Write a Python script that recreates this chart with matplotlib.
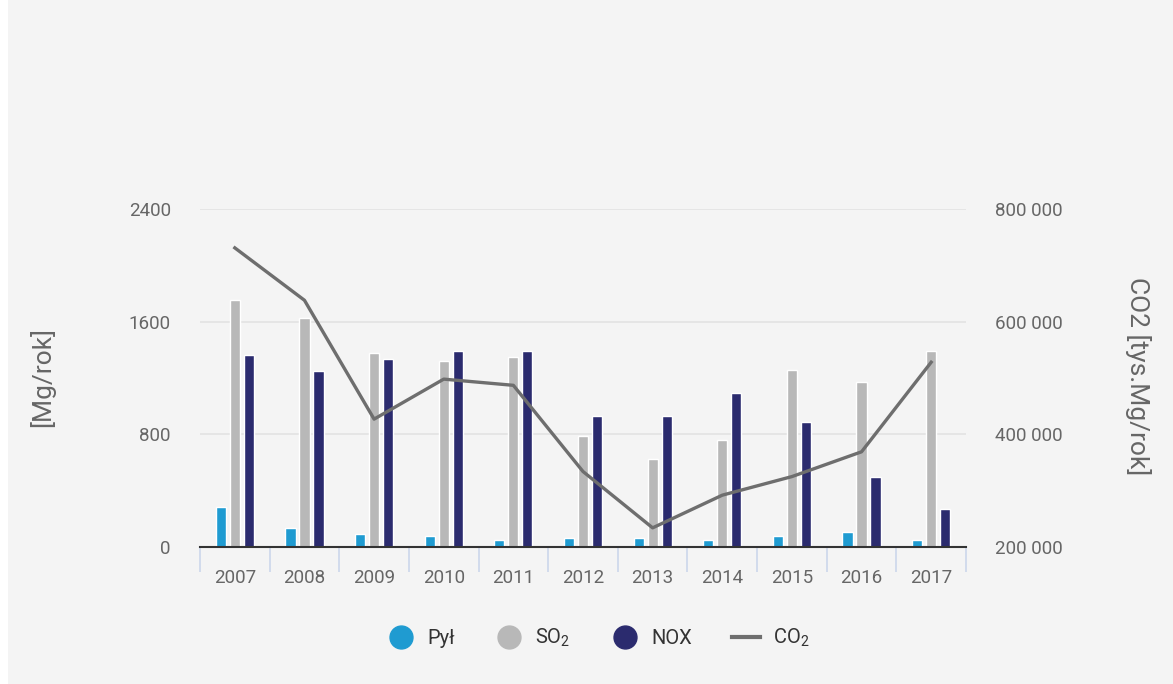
import matplotlib
matplotlib.use("Agg")
import matplotlib.pyplot as plt
from matplotlib.lines import Line2D
from matplotlib.patches import Rectangle
import numpy as np

years = ["2007", "2008", "2009", "2010", "2011", "2012", "2013", "2014", "2015", "2016", "2017"]
pyl = [286, 133, 90, 76, 47, 62, 62, 47, 78, 104, 47]
so2 = [1754, 1629, 1376, 1321, 1347, 788, 623, 762, 1257, 1172, 1392]
nox = [1361, 1250, 1333, 1390, 1390, 930, 930, 1096, 888, 495, 272]
co2 = [731000, 638000, 427000, 498000, 487000, 334000, 234000, 292000, 325000, 369000, 528000]

left_ticks = [0, 800, 1600, 2400]
right_ticks = [200000, 400000, 600000, 800000]

FONT = ["Roboto", "DejaVu Sans"]
TXT = "#666666"
plt.rcParams["font.family"] = FONT
plt.rcParams["mathtext.fontset"] = "custom"
plt.rcParams["mathtext.rm"] = "Roboto"
plt.rcParams["mathtext.it"] = "Roboto"
plt.rcParams["mathtext.default"] = "rm"

fig = plt.figure(figsize=(11.73, 6.84), dpi=100, facecolor="white")
fig.patches.append(Rectangle((8 / 1173, 0), 1, 1, transform=fig.transFigure,
                             facecolor="#f4f4f4", edgecolor="none", zorder=-10))

ax = fig.add_axes([200 / 1173, 137 / 684, 766 / 1173, 338 / 684])
ax.set_facecolor("none")
x = np.arange(len(years))
w = 0.145
off = 0.201
ax.bar(x - off, pyl, w, color="#1f9bd1", edgecolor="white", linewidth=1, zorder=3)
ax.bar(x, so2, w, color="#b8b8b8", edgecolor="white", linewidth=1, zorder=3)
ax.bar(x + off, nox, w, color="#2b2b6e", edgecolor="white", linewidth=1, zorder=3)

ax.set_xlim(-0.5, len(years) - 0.5)
ax.set_ylim(0, 2400)
ax.set_yticks(left_ticks)
ax.set_yticklabels([str(v) for v in left_ticks])
ax.grid(axis="y", color="#e3e3e3", linewidth=1.2, zorder=0)
for s in ["top", "right", "left"]:
    ax.spines[s].set_visible(False)
ax.spines["bottom"].set_color("#333333")
ax.spines["bottom"].set_linewidth(1.5)
ax.spines["bottom"].set_zorder(5)
ax.tick_params(axis="y", length=0, pad=21, labelsize=13.5, labelcolor=TXT)
ax.set_xticks(x)
ax.set_xticklabels(years)
ax.tick_params(axis="x", length=0, pad=16, labelsize=13.5, labelcolor=TXT)
ax.set_xticks(np.arange(len(years) + 1) - 0.5, minor=True)
ax.tick_params(axis="x", which="minor", length=18, width=1.2, color="#ccd6eb", direction="out")
ax.set_ylabel("[Mg/rok]", fontsize=19, color=TXT)
ax.yaxis.set_label_coords((55 - 200) / 766, (547 - 377) / 338)

ax2 = ax.twinx()
ax2.plot(x, co2, color="#6e6e6e", linewidth=2.4, zorder=4)
ax2.set_ylim(200000, 800000)
ax2.set_yticks(right_ticks)
ax2.set_yticklabels([f"{v:,}".replace(",", " ") for v in right_ticks])
for s in ["top", "right", "left", "bottom"]:
    ax2.spines[s].set_visible(False)
ax2.tick_params(axis="y", length=0, pad=21, labelsize=13.5, labelcolor=TXT)
ax2.set_ylabel("CO2 [tys.Mg/rok]", fontsize=19, color=TXT, rotation=270, va="center")
ax2.yaxis.set_label_coords((1138 - 200) / 766, (547 - 376) / 338)

handles = [
    Line2D([], [], marker="o", linestyle="none", markersize=16.5, color="#1f9bd1"),
    Line2D([], [], marker="o", linestyle="none", markersize=16.5, color="#b8b8b8"),
    Line2D([], [], marker="o", linestyle="none", markersize=16.5, color="#2b2b6e"),
    Line2D([], [], color="#6e6e6e", linewidth=3),
]
labels = ["Pył", "SO$_2$", "NOX", "CO$_2$"]
leg = fig.legend(handles, labels, loc="center", bbox_to_anchor=(598 / 1173, 1 - 638 / 684),
                 ncol=4, frameon=False, fontsize=14.5, handlelength=1.4, columnspacing=2.0,
                 handletextpad=0.6)
for t in leg.get_texts():
    t.set_color("#333333")

fig.savefig("out.png", dpi=100, facecolor=fig.get_facecolor())
